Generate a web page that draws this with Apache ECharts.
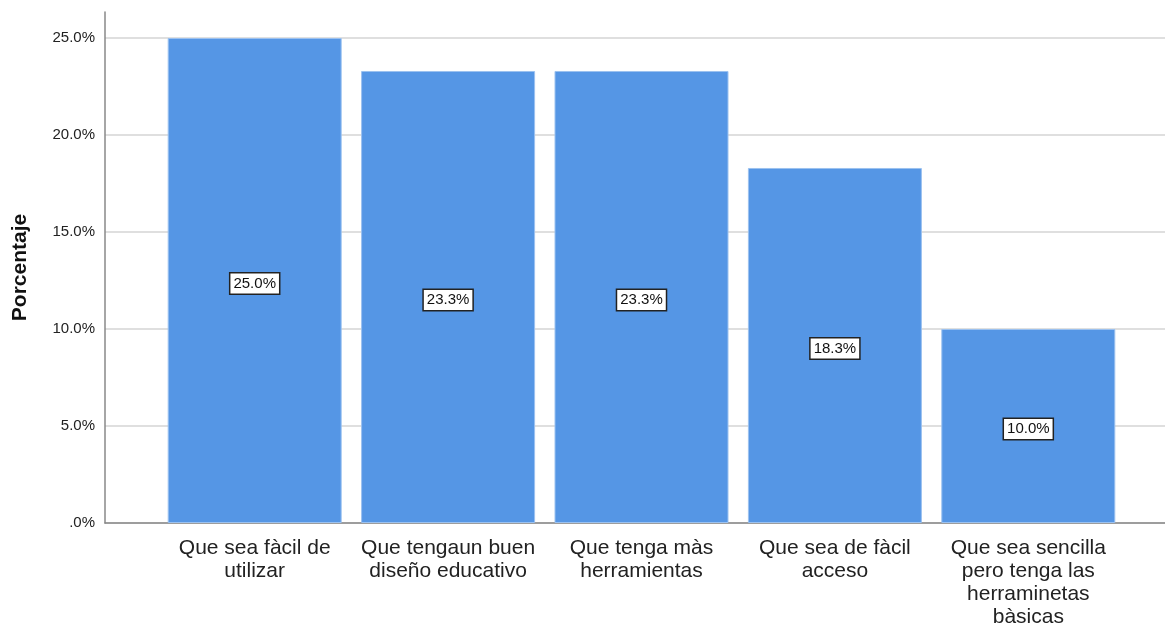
<!DOCTYPE html>
<html>
<head>
<meta charset="utf-8">
<script src="https://cdn.jsdelivr.net/npm/echarts@6/dist/echarts.min.js"></script>
<style>
  html, body { margin: 0; padding: 0; background: #fff; }
  #main { width: 1165px; height: 624px; }
</style>
</head>
<body>
<div id="main"></div>
<script>
var categories = [
    'Que sea fàcil de\nutilizar',
    'Que tengaun buen\ndiseño educativo',
    'Que tenga màs\nherramientas',
    'Que sea de fàcil\nacceso',
    'Que sea sencilla\npero tenga las\nherraminetas\nbàsicas'
];
var porcentajes = [25.0, 23.3, 23.3, 18.3, 10.0];

var myChart = echarts.init(document.getElementById('main'));
var option = {
    animation: false,
    textStyle: { fontFamily: 'Liberation Sans, Arial, sans-serif' },
    grid: [
        { left: 105, right: 0, top: 12, bottom: 101, outerBoundsMode: 'none', containLabel: false },
        { left: 158, right: 40, top: 12, bottom: 101, outerBoundsMode: 'none', containLabel: false }
    ],
    xAxis: [{
        gridIndex: 0,
        type: 'category',
        data: [''],
        axisLine: { lineStyle: { color: '#888', width: 1.5 } },
        axisTick: { show: false },
        axisLabel: { show: false }
    }, {
        gridIndex: 1,
        type: 'category',
        data: categories,
        axisLine: { show: false },
        axisTick: { show: false },
        axisLabel: {
            interval: 0,
            margin: 14,
            color: '#222',
            fontSize: 21,
            lineHeight: 23
        }
    }],
    yAxis: [{
        gridIndex: 0,
        type: 'value',
        min: 0,
        max: 26.34,
        interval: 5,
        name: 'Porcentaje',
        nameLocation: 'middle',
        nameGap: 74,
        nameTextStyle: { color: '#111', fontSize: 21, fontWeight: 'bold' },
        axisLine: { show: true, lineStyle: { color: '#888', width: 1.5 } },
        axisTick: { show: false },
        axisLabel: {
            color: '#222',
            fontSize: 15,
            margin: 10,
            showMaxLabel: false,
            formatter: function (v) {
                return v === 0 ? '.0%' : v.toFixed(1) + '%';
            }
        },
        splitLine: { showMaxLine: false, lineStyle: { color: '#d4d4d4', width: 1.5 } }
    }, {
        gridIndex: 1,
        type: 'value',
        min: 0,
        max: 26.34,
        interval: 5,
        axisLine: { show: false },
        axisTick: { show: false },
        axisLabel: { show: false },
        splitLine: { show: false }
    }],
    series: [{
        type: 'bar',
        xAxisIndex: 1,
        yAxisIndex: 1,
        data: porcentajes,
        barWidth: 174,
        itemStyle: {
            color: '#5596e5',
            borderColor: '#9cc2f0',
            borderWidth: 1
        },
        label: {
            show: true,
            position: 'inside',
            offset: [0, 3],
            formatter: function (p) { return p.value.toFixed(1) + '%'; },
            color: '#111',
            fontSize: 15,
            backgroundColor: '#fff',
            borderColor: '#222',
            borderWidth: 1.5,
            padding: [3, 3, 2, 3]
        }
    }]
};
myChart.setOption(option);
</script>
</body>
</html>
